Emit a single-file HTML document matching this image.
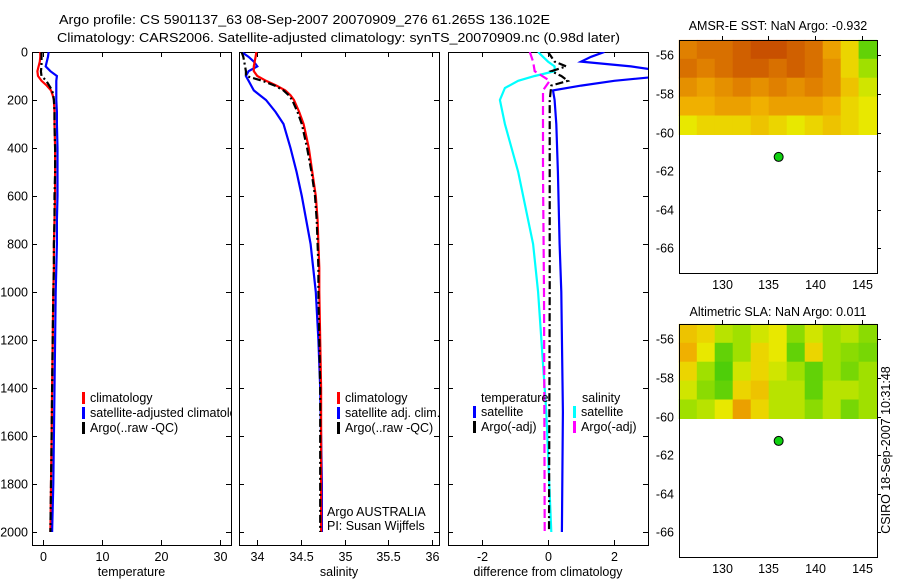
<!DOCTYPE html>
<html><head><meta charset="utf-8"><style>
body{margin:0;background:#fff;}
svg{display:block;font-family:"Liberation Sans",sans-serif;}
text{font-size:12.5px;fill:#000;}
</style></head><body>
<svg id="fig" width="900" height="580" viewBox="0 0 900 580" xmlns="http://www.w3.org/2000/svg">
<text x="59" y="24" textLength="491" lengthAdjust="spacingAndGlyphs">Argo profile: CS 5901137_63 08-Sep-2007 20070909_276 61.265S 136.102E</text>
<text x="57" y="42" textLength="563" lengthAdjust="spacingAndGlyphs">Climatology: CARS2006. Satellite-adjusted climatology: synTS_20070909.nc (0.98d later)</text>
<text x="778" y="30" text-anchor="middle">AMSR-E SST: NaN Argo: -0.932</text>
<text x="778" y="316" text-anchor="middle">Altimetric SLA: NaN Argo: 0.011</text>
<text transform="translate(890,450) rotate(-90)" text-anchor="middle">CSIRO 18-Sep-2007 10:31:48</text>
<g id="layer"></g>
</svg>
<script>
// ---- data ----
const depthTicks=[0,200,400,600,800,1000,1200,1400,1600,1800,2000];
const tempTicks=[0,10,20,30];
const salTicks=[34,34.5,35,35.5,36];
const diffTicks=[-2,0,2];
const latTicks=[-56,-58,-60,-62,-64,-66];
const lonTicks=[130,135,140,145];

const profDepths=[0,20,40,60,80,100,120,140,160,180,200,250,300,400,500,600,700,800,900,1000,1200,1400,1600,1800,2000];
const tempClim=[-0.5,-0.5,-0.6,-0.8,-1.0,-0.9,-0.3,0.6,1.3,1.6,1.8,1.9,1.9,2.0,2.0,2.0,1.9,1.8,1.8,1.7,1.6,1.5,1.4,1.3,1.2];
const tempSat=[0.9,0.8,0.6,0.4,1.2,2.3,2.2,2.2,2.2,2.2,2.2,2.3,2.3,2.4,2.4,2.4,2.3,2.3,2.2,2.1,2.0,1.9,1.8,1.7,1.5];
const tempArgo=[-0.3,-0.3,-0.3,-0.3,-0.4,-0.3,0.5,1.0,1.5,1.7,1.8,1.9,1.9,2.0,2.0,1.9,1.9,1.8,1.8,1.7,1.6,1.5,1.4,1.3,1.2];
const salClim=[33.99,33.98,33.97,33.96,33.96,34.0,34.10,34.22,34.32,34.38,34.42,34.48,34.53,34.59,34.63,34.67,34.69,34.70,34.71,34.71,34.72,34.73,34.73,34.73,34.73];
const salSat=[33.82,33.9,33.96,34.0,33.9,33.87,33.9,33.93,33.96,34.03,34.10,34.21,34.30,34.38,34.45,34.51,34.56,34.61,34.64,34.67,34.70,34.72,34.73,34.74,34.74];
const salArgo=[33.82,33.84,33.85,33.86,33.87,33.87,34.06,34.20,34.30,34.36,34.40,34.46,34.51,34.57,34.62,34.66,34.68,34.69,34.70,34.70,34.71,34.72,34.72,34.72,34.72];

const dTempSatDepths=[0,20,40,60,80,100,120,140,160,200,300,500,800,1000,1500,2000];
const dTempSat=[1.7,1.3,1.0,2.5,3.5,3.5,2.0,1.0,0.15,0.2,0.25,0.3,0.35,0.4,0.45,0.42];
const dSalSatDepths=[0,20,40,60,80,100,120,150,200,300,500,800,1000,1500,2000];
const dSalSat=[-0.3,-0.15,0.0,0.2,0.2,-0.4,-0.9,-1.3,-1.45,-1.3,-0.9,-0.45,-0.3,-0.05,0.1];
const dSalArgoDepths=[0,40,80,120,160,200,500,1000,2000];
const dSalArgo=[-0.55,-0.45,-0.4,0.05,-0.15,-0.15,-0.15,-0.12,-0.1];
const dTempArgoDepths=[0,20,40,60,80,100,120,140,200,500,1000,2000];
const dTempArgo=[0.0,0.1,0.2,0.55,0.1,0.4,0.6,0.1,0.05,0.05,0.05,0.03];

const sstGrid=[
[0.8,0.85,0.85,0.9,0.95,0.95,0.9,0.85,0.7,0.55,0.2],
[0.85,0.8,0.85,0.9,0.9,0.85,0.9,0.85,0.75,0.55,0.35],
[0.75,0.7,0.75,0.8,0.75,0.8,0.75,0.8,0.75,0.6,0.45],
[0.65,0.65,0.7,0.7,0.65,0.7,0.7,0.7,0.65,0.55,0.5],
[0.5,0.55,0.55,0.55,0.6,0.55,0.5,0.55,0.6,0.55,0.5]];
const slaGrid=[
[0.6,0.55,0.4,0.35,0.45,0.5,0.3,0.45,0.35,0.4,0.3],
[0.65,0.5,0.2,0.35,0.55,0.5,0.2,0.55,0.35,0.3,0.25],
[0.55,0.35,0.15,0.45,0.55,0.45,0.35,0.2,0.35,0.25,0.35],
[0.45,0.3,0.2,0.55,0.6,0.4,0.4,0.2,0.4,0.4,0.35],
[0.35,0.4,0.5,0.7,0.55,0.4,0.4,0.3,0.4,0.25,0.35]];
const floatLon=136.102, floatLat=-61.265;

// ---- helpers ----
const NS="http://www.w3.org/2000/svg";
const layer=document.getElementById('layer');
function mk(tag,attrs,parent){const e=document.createElementNS(NS,tag);for(const k in attrs)e.setAttribute(k,attrs[k]);(parent||layer).appendChild(e);return e;}
function lin(d0,d1,r0,r1){return v=>r0+(v-d0)*(r1-r0)/(d1-d0);}
const yDepth=lin(0,2000,52,532);

function panel(name,x0,x1,y0,y1,xs,xt,labelFn,xlab,showY){
  const g=mk('g',{});
  
  
  const r=mk('rect',{x:x0+0.5,y:y0+0.5,width:x1-x0,height:y1-y0,fill:'none',stroke:'#000','stroke-width':1},g);
  
  
  xt.forEach(v=>{const x=Math.round(xs(v))+0.5;
    mk('line',{x1:x,x2:x,y1:y1,y2:y1-5,stroke:'#000'},g);
    mk('line',{x1:x,x2:x,y1:y0,y2:y0+5,stroke:'#000'},g);
    const t=mk('text',{x:x,y:y1+16,'text-anchor':'middle'},g);t.textContent=labelFn(v);
    
    });
  depthTicks.forEach(v=>{const y=Math.round(yDepth(v))+0.5;
    mk('line',{x1:x0,x2:x0+5,y1:y,y2:y,stroke:'#000'},g);
    mk('line',{x1:x1-5,x2:x1,y1:y,y2:y,stroke:'#000'},g);
    if(showY){const t=mk('text',{x:x0-4,y:y+4,'text-anchor':'end'},g);t.textContent=v;
      
      }});
  const t=mk('text',{x:(x0+x1)/2,y:y1+31,'text-anchor':'middle'},g);t.textContent=xlab;
  
  
  return g;
}
function line(name,xs,vals,depths,color,dash,clip){
  const pts=vals.map((v,i)=>xs(v).toFixed(1)+','+yDepth(depths[i]).toFixed(1)).join(' ');
  const p=mk('polyline',{points:pts,fill:'none',stroke:color,'stroke-width':2.2,'stroke-dasharray':dash||'none','clip-path':clip?'url(#'+clip+')':''});
  
  
}
function legend(x,y,items,name,clip){
  items.forEach((it,i)=>{
    mk('rect',{x:x,y:y+i*15-10,width:3,height:12,fill:it[1]});
    const t=mk('text',{x:x+8,y:y+i*15});t.textContent=it[0];
    if(clip)t.setAttribute('clip-path','url(#'+clip+')');
    
    
  });
}
const defs=mk('defs',{});
[['c1',32,231],['c2',239,439],['c3',448,648]].forEach(c=>{const cp=mk('clipPath',{id:c[0]},defs);mk('rect',{x:c[1],y:52,width:c[2]-c[1],height:493},cp);});

// panel 1 temperature
const xT=lin(0,10,43.3,102.3);
panel('temperature-panel',32,231,52,545,xT,tempTicks,v=>v,'temperature',true);
line('temp-climatology-line',xT,tempClim,profDepths,'#f00','','c1');
line('temp-satellite-line',xT,tempSat,profDepths,'#00f','','c1');
line('temp-argo-line',xT,tempArgo,profDepths,'#000','8,3,2,3','c1');
legend(82,402,[['climatology','#f00'],['satellite-adjusted climatology','#00f'],['Argo(..raw -QC)','#000']],'temp-legend','c1');

// panel 2 salinity
const xS=lin(34,36,257.3,432);
panel('salinity-panel',239,439,52,545,xS,salTicks,v=>v,'salinity',false);
line('sal-satellite-line',xS,salSat,profDepths,'#00f','','c2');
line('sal-climatology-line',xS,salClim,profDepths,'#f00','','c2');
line('sal-argo-line',xS,salArgo,profDepths,'#000','8,3,2,3','c2');
legend(337,402,[['climatology','#f00'],['satellite adj. clim.','#00f'],['Argo(..raw -QC)','#000']],'sal-legend');
let t=mk('text',{x:327,y:516});t.textContent='Argo AUSTRALIA';


t=mk('text',{x:327,y:530});t.textContent='PI: Susan Wijffels';



// panel 3 differences
const xD=lin(0,2,548,614.3);
panel('difference-panel',448,648,52,545,xD,diffTicks,v=>v===-2?'-2':v,'difference from climatology',false);
line('dtemp-satellite-line',xD,dTempSat,dTempSatDepths,'#00f','','c3');
line('dsal-satellite-line',xD,dSalSat,dSalSatDepths,'#0ff','','c3');
line('dsal-argo-line',xD,dSalArgo,dSalArgoDepths,'#f0f','9,4','c3');
line('dtemp-argo-line',xD,dTempArgo,dTempArgoDepths,'#000','8,3,2,3','c3');
t=mk('text',{x:481,y:402});t.textContent='temperature';


t=mk('text',{x:582,y:402});t.textContent='salinity';


legend(473,416,[['satellite','#00f'],['Argo(-adj)','#000']],'diff-temp-legend');
legend(573,416,[['satellite','#0ff'],['Argo(-adj)','#f0f']],'diff-sal-legend');

// maps
const cmapStops=[[0,[16,192,16]],[0.35,[160,224,0]],[0.5,[232,232,0]],[0.65,[240,176,0]],[0.8,[224,128,0]],[1,[192,64,0]]];
function cmap(v){for(let i=1;i<cmapStops.length;i++){if(v<=cmapStops[i][0]){const a=cmapStops[i-1],b=cmapStops[i],f=(v-a[0])/(b[0]-a[0]);return 'rgb('+a[1].map((c,k)=>Math.round(c+(b[1][k]-c)*f)).join(',')+')';}}return 'rgb(192,64,0)';}
function map(name,y0,grid){
  const x0=679,x1=877,y1=y0+233;
  const xs=lin(130,145,721.7,861.7), ys=lin(-56,-66,y0+15.3,y0+208.3);
  const g=mk('g',{});
  
  
  const latTop=-55.2, latBot=-60.1;
  const rows=grid.length, cols=grid[0].length;
  const lonL=125.4, lonR=146.6;
  grid.forEach((row,r)=>row.forEach((v,c)=>{
    const xa=xs(lonL+(lonR-lonL)*c/cols), xb=xs(lonL+(lonR-lonL)*(c+1)/cols);
    const ya=ys(latTop+(latBot-latTop)*r/rows), yb=ys(latTop+(latBot-latTop)*(r+1)/rows);
    const cell=mk('rect',{x:xa.toFixed(1),y:ya.toFixed(1),width:(xb-xa+0.6).toFixed(1),height:(yb-ya+0.6).toFixed(1),fill:cmap(v)},g);
    
    
  }));
  const fr=mk('rect',{x:x0+0.5,y:y0+0.5,width:x1-x0,height:y1-y0,fill:'none',stroke:'#000'},g);
  
  
  lonTicks.forEach(v=>{const x=Math.round(xs(v))+0.5;
    mk('line',{x1:x,x2:x,y1:y0,y2:y0-4,stroke:'#000'},g);
    const tl=mk('text',{x:x,y:y1+16,'text-anchor':'middle'},g);tl.textContent=v;
    
    });
  latTicks.forEach(v=>{const y=Math.round(ys(v))+0.5;
    mk('line',{x1:x1,x2:x1+4,y1:y,y2:y,stroke:'#000'},g);
    const tl=mk('text',{x:x0-5,y:y+4,'text-anchor':'end'},g);tl.textContent=v;
    
    });
  const dot=mk('circle',{cx:xs(floatLon),cy:ys(floatLat),r:4.5,fill:'#10d010',stroke:'#000','stroke-width':1},g);
  
  
}
map('sst-map',40,sstGrid);
map('sla-map',324,slaGrid);
</script>
</body></html>
